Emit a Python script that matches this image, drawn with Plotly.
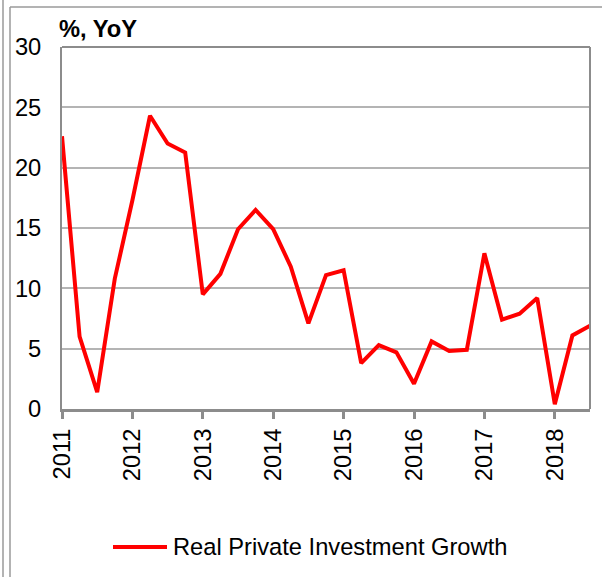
import plotly.graph_objects as go

# Quarterly real private investment growth, % year on year
quarters = [f"{y}Q{q}" for y in range(2011, 2019) for q in range(1, 5)][:31]
growth = [22.6, 6.0, 1.4, 10.8, 17.3, 24.3, 22.0, 21.25,
          9.5, 11.2, 14.9, 16.5, 14.9, 11.8, 7.1, 11.1,
          11.5, 3.8, 5.3, 4.7, 2.1, 5.6, 4.8, 4.9,
          12.9, 7.4, 7.9, 9.2, 0.4, 6.1, 6.9]
year_ticks = [f"{y}Q1" for y in range(2011, 2019)]
year_labels = [str(y) for y in range(2011, 2019)]
series_name = "Real Private Investment Growth"

FONT = "Liberation Sans, Arial, sans-serif"
FS = 23.7
GRID = "#b4b4b4"
AXIS = "#8c8c8c"
RED = "#ff0000"

fig = go.Figure()
fig.add_trace(go.Scatter(
    x=quarters, y=growth, mode="lines",
    line=dict(color=RED, width=4), name=series_name, showlegend=False,
))

W, H = 602, 577
L, R, T, B = 62, 12, 47, 168
pw, ph = W - L - R, H - T - B


def px(x):
    return (x - L) / pw


def py(y):
    return (H - B - y) / ph


fig.update_layout(
    width=W, height=H,
    margin=dict(l=L, r=R, t=T, b=B, pad=0),
    paper_bgcolor="white", plot_bgcolor="white",
    font=dict(family=FONT, size=FS, color="black"),
    xaxis=dict(
        type="category", range=[0, len(quarters) - 1],
        tickmode="array", tickvals=year_ticks, ticktext=year_labels,
        tickangle=-90, ticks="outside", ticklen=7, tickwidth=3, tickcolor=AXIS,
        showline=True, linecolor=AXIS, linewidth=3,
        showgrid=False, zeroline=False,
        tickfont=dict(family=FONT, size=FS),
    ),
    yaxis=dict(
        range=[0, 30], tickvals=[0, 5, 10, 15, 20, 25, 30],
        showline=True, linecolor=AXIS, linewidth=2,
        showgrid=True, gridcolor=GRID, gridwidth=1.5,
        zeroline=False, ticks="", ticklabelstandoff=14,
        tickfont=dict(family=FONT, size=FS),
    ),
    shapes=[
        # plot-area frame (top and right edges)
        dict(type="line", xref="paper", yref="paper", x0=0, x1=1, y0=1, y1=1,
             line=dict(color=AXIS, width=2)),
        dict(type="line", xref="paper", yref="paper", x0=1, x1=1, y0=0, y1=1,
             line=dict(color=AXIS, width=2)),
        # outer chart border
        dict(type="line", xref="paper", yref="paper", x0=px(10), x1=px(603),
             y0=py(7), y1=py(7), line=dict(color="#9a9a9a", width=1.5)),
        dict(type="line", xref="paper", yref="paper", x0=px(10), x1=px(10),
             y0=py(7), y1=py(580), line=dict(color="#9a9a9a", width=1.5)),
        dict(type="line", xref="paper", yref="paper", x0=px(3), x1=px(3),
             y0=py(-2), y1=py(580), line=dict(color="#9a9a9a", width=1.5)),
        # legend key
        dict(type="line", xref="paper", yref="paper", x0=px(113), x1=px(167),
             y0=py(547), y1=py(547), line=dict(color=RED, width=4)),
    ],
    annotations=[
        dict(text="<b>%, YoY</b>", xref="paper", yref="paper",
             x=px(57), y=py(29), xanchor="left", yanchor="middle",
             showarrow=False, font=dict(family=FONT, size=FS)),
        dict(text=series_name, xref="paper", yref="paper",
             x=px(171), y=py(547), xanchor="left", yanchor="middle",
             showarrow=False, font=dict(family=FONT, size=FS)),
    ],
)

fig.write_html("out.html")
